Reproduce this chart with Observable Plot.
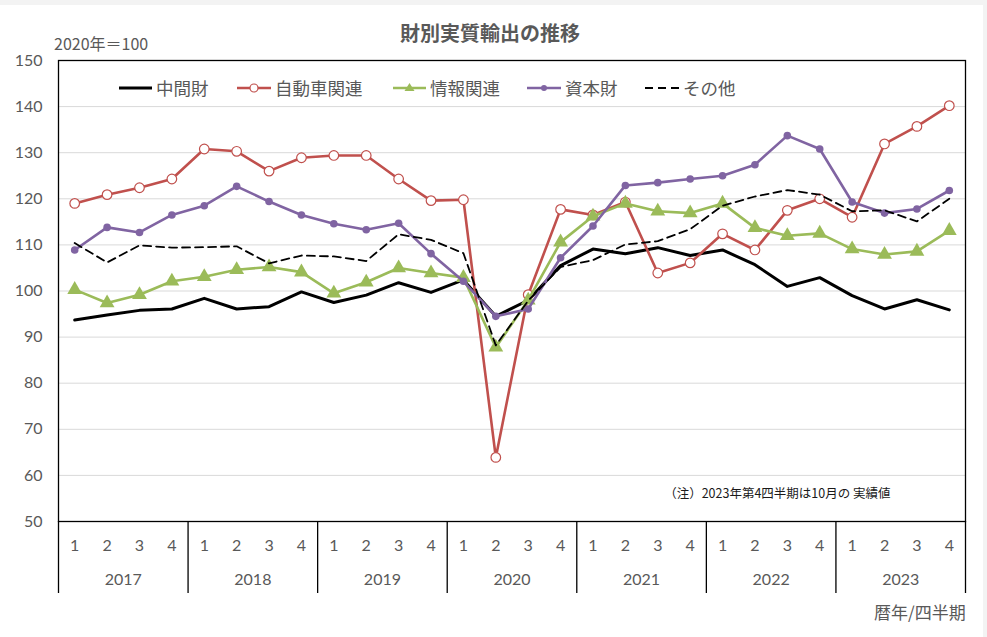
<!DOCTYPE html>
<html>
<head>
<meta charset="utf-8">
<script src="https://cdn.jsdelivr.net/npm/d3@7"></script>
<script src="https://cdn.jsdelivr.net/npm/@observablehq/plot@0.6"></script>
<style>
  html, body { margin: 0; padding: 0; background: #f3f3f3; }
  #wrap { position: relative; width: 987px; height: 637px; overflow: hidden; }
  #panel { position: absolute; left: 0; top: 5px; width: 983px; height: 632px; background: #fff; }
  #chart { position: absolute; left: 0; top: 0; }
  .lbl { position: absolute; font-family: "Noto Sans CJK JP", "Noto Sans", sans-serif; color: #595959; white-space: nowrap; line-height: 1; }
  .leg { position: absolute; display: flex; align-items: center; height: 24px; }
  .leg span { font-family: "Noto Sans CJK JP", sans-serif; font-size: 17.5px; color: #595959; margin-left: 4px; line-height: 1; }
</style>
</head>
<body>
<div id="wrap">
  <div id="panel"></div>
  <div id="chart"></div>
  <div class="lbl" id="title" style="left:0; width:980px; text-align:center; top:23px; font-size:20px; font-weight:bold;">財別実質輸出の推移</div>
  <div class="lbl" style="left:54px; top:35px; font-size:16px;">2020年＝100</div>
  <div class="lbl" style="left:874px; top:603px; font-size:17px;">暦年/四半期</div>
  <div id="legend"></div>
</div>
<script>
const years = [2017, 2018, 2019, 2020, 2021, 2022, 2023];
const quarters = [1, 2, 3, 4];
const seriesNames = ["中間財", "自動車関連", "情報関連", "資本財", "その他"];
const seriesColors = ["#000000", "#C0504D", "#9BBB59", "#8064A2", "#000000"];

const chukanzai = [93.7, 94.8, 95.8, 96.1, 98.4, 96.1, 96.6, 99.8, 97.5, 99.1, 101.8, 99.7, 102.4, 94.5, 98.0, 105.5, 109.1, 108.1, 109.4, 107.7, 108.9, 105.7, 101.0, 102.9, 99.0, 96.1, 98.1, 95.9];
const jidosha = [119.0, 120.9, 122.4, 124.3, 130.8, 130.3, 126.0, 128.9, 129.4, 129.4, 124.3, 119.6, 119.8, 63.9, 99.2, 117.7, 116.5, 119.3, 103.9, 106.1, 112.4, 108.9, 117.5, 120.0, 116.0, 131.9, 135.7, 140.2];
const joho = [100.3, 97.4, 99.2, 102.1, 103.1, 104.6, 105.2, 104.1, 99.5, 101.9, 105.0, 103.9, 102.9, 87.8, 98.0, 110.6, 116.2, 119.0, 117.3, 116.9, 119.0, 113.7, 112.0, 112.5, 109.1, 107.9, 108.6, 113.1];
const shihonzai = [108.9, 113.8, 112.7, 116.5, 118.5, 122.7, 119.4, 116.5, 114.6, 113.3, 114.7, 108.1, 102.1, 94.5, 96.1, 107.2, 114.1, 122.9, 123.5, 124.3, 125.0, 127.4, 133.7, 130.8, 119.3, 116.9, 117.8, 121.8];
const sonota = [110.4, 106.2, 109.9, 109.4, 109.5, 109.7, 106.0, 107.7, 107.5, 106.5, 112.3, 111.1, 108.2, 88.2, 97.9, 105.2, 106.7, 110.1, 110.8, 113.4, 118.5, 120.5, 121.9, 120.9, 117.3, 117.5, 115.1, 120.0];

const yTicks = d3.range(50, 151, 10);
const note = "（注）2023年第4四半期は10月の 実績値";

const rows = [];
years.forEach((yr, k) => quarters.forEach((q, j) => {
  const i = k * 4 + j;
  rows.push({i, year: yr, q, a: chukanzai[i], b: jidosha[i], c: joho[i], d: shihonzai[i], e: sonota[i]});
}));
const idx = rows.map(r => r.i);
const separators = years.map((y, k) => k * 4 - 0.5).concat([years.length * 4 - 0.5]);

const chart = Plot.plot({
  width: 987,
  height: 637,
  marginLeft: 58,
  marginRight: 22,
  marginTop: 60,
  marginBottom: 116,
  style: {background: "transparent", fontFamily: "Lato, 'Noto Sans', sans-serif", color: "#595959", overflow: "visible"},
  x: {domain: [-0.5, rows.length - 0.5], axis: null, label: null},
  y: {domain: [50, 150], axis: null, label: null},
  marks: [
    Plot.gridY(yTicks, {stroke: "#d9d9d9", strokeOpacity: 1, strokeWidth: 1}),
    Plot.axisY(yTicks, {tickSize: 0, tickPadding: 16, fontSize: 16, fill: "#595959", label: null}),
    Plot.axisX(idx, {tickSize: 0, tickPadding: 18, fontSize: 16, fill: "#595959", label: null, tickFormat: i => String(rows[i].q)}),
    Plot.axisX(separators, {tickSize: 72, stroke: "#000", strokeWidth: 1.3, strokeOpacity: 1, label: null, tickFormat: () => ""}),
    Plot.text(years, {x: (d, k) => k * 4 + 1.5, frameAnchor: "bottom", dy: 63, text: d => String(d), fontSize: 16, fill: "#595959"}),
    Plot.frame({stroke: "#000", strokeWidth: 1.3}),
    Plot.text([note], {frameAnchor: "bottom-right", dx: -75, dy: -24, text: d => d, textAnchor: "end", fontSize: 12.5, fill: "#1a1a1a", fontFamily: "'Noto Sans CJK JP', sans-serif"}),
    // 中間財
    Plot.line(rows, {x: "i", y: "a", stroke: seriesColors[0], strokeWidth: 3}),
    // 自動車関連
    Plot.line(rows, {x: "i", y: "b", stroke: seriesColors[1], strokeWidth: 2.6}),
    Plot.dot(rows, {x: "i", y: "b", r: 4.8, fill: "#fff", stroke: seriesColors[1], strokeWidth: 1.2}),
    // 情報関連
    Plot.line(rows, {x: "i", y: "c", stroke: seriesColors[2], strokeWidth: 2.6}),
    Plot.dot(rows, {x: "i", y: "c", symbol: "triangle", r: 5.5, fill: seriesColors[2], stroke: "none"}),
    // 資本財
    Plot.line(rows, {x: "i", y: "d", stroke: seriesColors[3], strokeWidth: 2.6}),
    Plot.dot(rows, {x: "i", y: "d", r: 3.8, fill: seriesColors[3], stroke: "none"}),
    // その他
    Plot.line(rows, {x: "i", y: "e", stroke: seriesColors[4], strokeWidth: 1.8, strokeDasharray: "8,5"})
  ]
});
document.getElementById("chart").appendChild(chart);

// legend
const legendLeft = [119, 237, 393, 527, 645];
const swatchW = [33, 34, 33, 34, 34];
const legendEl = document.getElementById("legend");
seriesNames.forEach((name, k) => {
  const item = document.createElement("div");
  item.className = "leg";
  item.style.left = legendLeft[k] + "px";
  item.style.top = "76px";
  const w = swatchW[k];
  let inner = "";
  const c = seriesColors[k];
  if (k === 0) inner = `<line x1="0" y1="12" x2="${w}" y2="12" stroke="${c}" stroke-width="3"/>`;
  if (k === 1) inner = `<line x1="0" y1="12" x2="${w}" y2="12" stroke="${c}" stroke-width="2.6"/><circle cx="${w/2}" cy="12" r="4" fill="#fff" stroke="${c}" stroke-width="1.2"/>`;
  if (k === 2) inner = `<line x1="0" y1="12" x2="${w}" y2="12" stroke="${c}" stroke-width="2.6"/><path d="M${w/2},7 L${w/2+5},15 L${w/2-5},15 Z" fill="${c}"/>`;
  if (k === 3) inner = `<line x1="0" y1="12" x2="${w}" y2="12" stroke="${c}" stroke-width="2.6"/><circle cx="${w/2}" cy="12" r="3" fill="${c}"/>`;
  if (k === 4) inner = `<line x1="0" y1="12" x2="${w}" y2="12" stroke="${c}" stroke-width="2" stroke-dasharray="8,5"/>`;
  item.innerHTML = `<svg width="${w}" height="24">${inner}</svg><span>${name}</span>`;
  legendEl.appendChild(item);
});
</script>
</body>
</html>
